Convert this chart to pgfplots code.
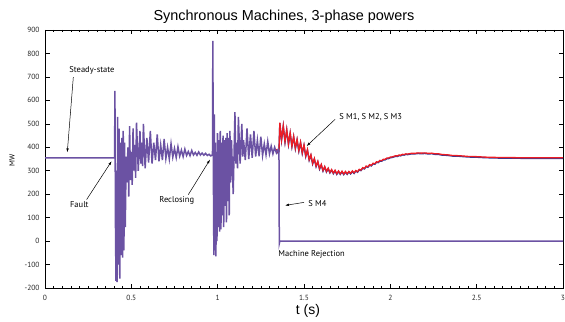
\documentclass[border=0pt]{standalone}
\usepackage{pgfplots}
\pgfplotsset{compat=1.18}
\usepackage{pgfplotstable}
\usepackage{fontspec}
\setmainfont{PT Sans}
\newfontfamily\helv{Liberation Sans}
\usetikzlibrary{arrows.meta}
\definecolor{smpurple}{RGB}{107,82,163}
\definecolor{smred}{RGB}{237,28,36}
\definecolor{smblue}{RGB}{46,58,150}

\pgfplotstableread{
t P
0 355
0.400 355
0.403 355
0.405 640
0.408 80
0.411 -170
0.414 300
0.417 -175
0.421 530
0.425 -100
0.429 480
0.433 -160
0.437 420
0.441 -60
0.445 440
0.449 -70
0.453 470
0.457 -40
0.461 420
0.465 60
0.470 360
0.475 250
0.480 400
0.485 190
0.490 490
0.495 260
0.500 380
0.505 240
0.510 480
0.515 300
0.520 410
0.525 270
0.530 505
0.540 300
0.550 470
0.555 330
0.560 420
0.565 320
0.570 500
0.580 310
0.590 440
0.600 335
0.610 470
0.620 330
0.630 420
0.640 345
0.650 455
0.660 340
0.670 410
0.680 345
0.690 435
0.700 352
0.710 400
0.720 350
0.730 415
0.740 358
0.750 395
0.760 356
0.770 402
0.780 362
0.790 388
0.800 360
0.810 392
0.820 365
0.830 382
0.840 364
0.850 386
0.860 367
0.870 378
0.880 366
0.890 380
0.900 367
0.910 375
0.920 366
0.930 374
0.940 365
0.950 370
0.960 363
0.970 368
0.972 854
0.975 300
0.978 -60
0.981 540
0.984 -40
0.987 420
0.990 -65
0.993 380
0.996 0
0.999 460
1.003 60
1.007 430
1.011 40
1.015 470
1.019 50
1.023 420
1.027 110
1.031 450
1.035 60
1.039 430
1.043 150
1.047 440
1.051 80
1.055 460
1.059 170
1.063 440
1.067 110
1.071 470
1.075 250
1.080 430
1.090 200
1.100 550
1.105 330
1.110 420
1.115 310
1.120 530
1.130 330
1.140 500
1.145 360
1.150 430
1.160 345
1.170 480
1.180 350
1.190 455
1.200 355
1.210 470
1.220 360
1.230 430
1.240 362
1.250 445
1.260 365
1.270 415
1.280 368
1.290 425
1.300 372
1.310 405
1.320 372
1.330 400
1.340 376
1.350 390
1.355 385
1.357 -10
1.360 0
3.000 0
}\purpletab

\pgfplotstableread{
t P
1.340 392
1.350 378
1.355 385
1.360 505
1.370 432
1.380 492
1.390 424
1.400 476
1.410 414
1.420 462
1.430 405
1.440 447
1.450 396
1.460 434
1.470 386
1.480 422
1.490 376
1.500 410
1.510 363
1.520 390
1.530 347
1.540 368
1.550 331
1.560 352
1.570 320
1.580 340
1.590 309
1.600 327
1.610 301
1.620 318
1.630 297
1.640 311
1.650 293
1.660 305
1.670 290
1.680 302
1.690 287
1.700 299
1.710 287
1.720 298
1.730 286
1.740 297
1.750 287
1.760 297
1.770 289
1.780 299
1.790 291
1.800 301
1.810 296
1.820 306
1.830 303
1.840 313
1.850 310
1.860 320
1.870 317
1.880 326
1.890 323
1.900 332
1.910 330
1.920 338
1.930 337
1.940 344
1.950 343
1.960 349
1.970 349
1.980 354
1.990 354
2.000 358
2.010 359
2.020 361
2.030 364
2.040 363
2.050 367
2.060 366
2.070 370
2.080 369
2.090 372
2.100 371
2.120 374
2.140 374
2.160 376
2.180 375
2.200 376
2.220 374
2.240 375
2.260 372
2.280 372
2.300 369
2.330 368
2.360 365
2.400 364
2.450 361
2.500 360
2.550 358
2.600 357
2.650 356
2.700 356
2.800 355
2.900 355
3.000 355
}\redtab

\begin{document}
\begin{tikzpicture}
\useasboundingbox (0,0) rectangle (565bp,322bp);
\begin{axis}[
  at={(45bp,34bp)}, anchor=south west,
  scale only axis, width=518bp, height=258bp,
  xmin=0, xmax=3, ymin=-200, ymax=900,
  xtick={0,0.5,1,1.5,2,2.5,3},
  xticklabels={0,0.5,1,1.5,2,2.5,3},
  ytick={-200,-100,0,100,200,300,400,500,600,700,800,900},
  yticklabels={-200,-100,0,100,200,300,400,500,600,700,800,900},
  minor x tick num=9,
  tick align=inside,
  major tick length=4.5bp, minor tick length=2.5bp,
  axis line style={line width=0.9bp},
  every tick/.style={black, line width=0.6bp},
  ticklabel style={font=\fontsize{7.5}{8.5}\selectfont, text=black!85},
  xticklabel style={yshift=-4bp},
  yticklabel style={xshift=-2bp},
]
\addplot[smblue, line width=1.4bp, no markers] table[x=t, y expr=\thisrow{P}-2.5] {\redtab};
\addplot[smred, line width=1.3bp, no markers] table[x=t, y=P] {\redtab};
\addplot[smpurple, line width=1.5bp, no markers] table[x=t, y=P] {\purpletab};

\begin{scope}[font=\fontsize{8.5}{10}\selectfont]
\node at (axis cs:0.272,729) {Steady-state};
\draw[line width=0.5bp, -{Latex[length=4bp,width=2.5bp]}] (axis cs:0.164,699) -- (axis cs:0.129,378);
\node at (axis cs:0.199,155) {Fault};
\draw[line width=0.5bp, -{Latex[length=4bp,width=2.5bp]}] (axis cs:0.241,177) -- (axis cs:0.386,341);
\node at (axis cs:0.763,172) {Reclosing};
\draw[line width=0.5bp, -{Latex[length=4bp,width=2.5bp]}] (axis cs:0.83,198) -- (axis cs:0.956,348);
\node[anchor=west] at (axis cs:1.685,529) {S M1, S M2, S M3};
\draw[line width=0.5bp, -{Latex[length=4bp,width=2.5bp]}] (axis cs:1.68,519) -- (axis cs:1.515,405);
\node[anchor=west] at (axis cs:1.505,158) {S M4};
\draw[line width=0.5bp, -{Latex[length=4bp,width=2.5bp]}] (axis cs:1.5,165) -- (axis cs:1.39,152);
\node at (axis cs:1.544,-55) {Machine Rejection};
\end{scope}
\end{axis}
\node[font=\helv\fontsize{14.5}{16}\selectfont] at (284bp,305bp) {Synchronous Machines, 3-phase powers};
\node[font=\helv\fontsize{14}{16}\selectfont] at (308bp,11bp) {t (s)};
\node[font=\fontsize{7.5}{8}\selectfont, rotate=90] at (12bp,162bp) {MW};
\end{tikzpicture}
\end{document}
